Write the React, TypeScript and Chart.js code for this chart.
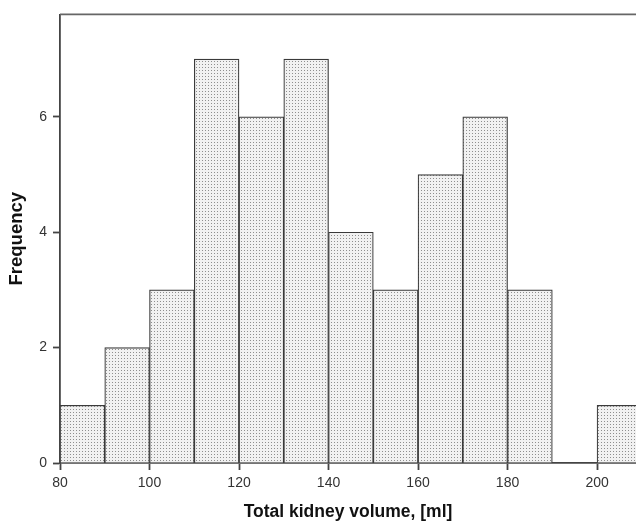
import React, { useEffect, useRef } from "react";
import { Chart, registerables } from "chart.js";

Chart.register(...registerables);

// Histogram bins (bin centres, width 10 ml) and frequencies
const binCenters = [85, 95, 105, 115, 125, 135, 145, 155, 165, 175, 185, 195, 205];
const frequencies = [1, 2, 3, 7, 6, 7, 4, 3, 5, 6, 3, 0, 1];

const xTitle = "Total kidney volume, [ml]";
const yTitle = "Frequency";

const FONT = "'Liberation Sans', Arial, Helvetica, sans-serif";
const AXIS = "#444444";

function makePattern(): CanvasPattern | string {
  const c = document.createElement("canvas");
  c.width = 3;
  c.height = 3;
  const g = c.getContext("2d");
  if (!g) return "#dddddd";
  g.fillStyle = "#f1f1f1";
  g.fillRect(0, 0, 3, 3);
  g.fillStyle = "#8e8e8e";
  g.fillRect(1, 1, 1, 1);
  const p = g.createPattern(c, "repeat");
  return p || "#dddddd";
}

const topBorder = {
  id: "topBorder",
  afterDraw(chart: any) {
    const { ctx, chartArea } = chart;
    ctx.save();
    ctx.strokeStyle = "#666666";
    ctx.lineWidth = 1.8;
    ctx.beginPath();
    ctx.moveTo(chartArea.left, chartArea.top);
    ctx.lineTo(chartArea.right + 2, chartArea.top);
    ctx.stroke();
    ctx.restore();
  },
};

export default function App() {
  const ref = useRef<HTMLCanvasElement | null>(null);

  useEffect(() => {
    if (!ref.current) return;
    const pattern = makePattern();
    const chart = new Chart(ref.current, {
      type: "bar",
      data: {
        datasets: [
          {
            data: binCenters.map((x, i) => ({ x, y: frequencies[i] })),
            backgroundColor: pattern as any,
            borderColor: "#3a3a3a",
            borderWidth: 1.2,
            borderSkipped: "start",
            barPercentage: 1,
            categoryPercentage: 1,
          },
        ],
      },
      options: {
        animation: false,
        responsive: false,
        events: [],
        layout: { padding: { top: 14, right: 0, left: 0, bottom: 0 } },
        plugins: {
          legend: { display: false },
          tooltip: { enabled: false },
        },
        scales: {
          x: {
            type: "linear",
            min: 80,
            max: 208.7,
            offset: false,
            afterFit(scale: any) {
              scale.height = 61;
            },
            ticks: {
              stepSize: 20,
              includeBounds: false,
              color: "#333333",
              font: { family: FONT, size: 14 },
              padding: 5,
              maxRotation: 0,
            },
            grid: {
              offset: false,
              drawOnChartArea: false,
              drawTicks: true,
              tickLength: 7,
              tickColor: AXIS,
              tickWidth: 1.8,
              color: AXIS,
            },
            border: { display: true, color: AXIS, width: 1.8 },
            title: {
              display: true,
              text: xTitle,
              color: "#111111",
              font: { family: FONT, size: 17.5, weight: "bold" },
              padding: { top: 0, bottom: 1 },
            },
          },
          y: {
            type: "linear",
            min: 0,
            max: 7.775,
            afterFit(scale: any) {
              scale.width = 60;
            },
            ticks: {
              stepSize: 2,
              includeBounds: false,
              color: "#333333",
              font: { family: FONT, size: 14 },
              padding: 6,
            },
            grid: {
              offset: false,
              drawOnChartArea: false,
              drawTicks: true,
              tickLength: 7,
              tickColor: AXIS,
              tickWidth: 1.8,
              color: AXIS,
            },
            border: { display: true, color: AXIS, width: 1.8 },
            title: {
              display: true,
              text: yTitle,
              color: "#111111",
              font: { family: FONT, size: 18.5, weight: "bold" },
              padding: { top: 6, bottom: 0 },
            },
          },
        },
      },
      plugins: [topBorder],
    });
    return () => chart.destroy();
  }, []);

  return (
    <div style={{ position: "fixed", left: 0, top: 0, width: 636, height: 524, background: "#ffffff" }}>
      <canvas ref={ref} width={636} height={524} style={{ display: "block" }} />
    </div>
  );
}
